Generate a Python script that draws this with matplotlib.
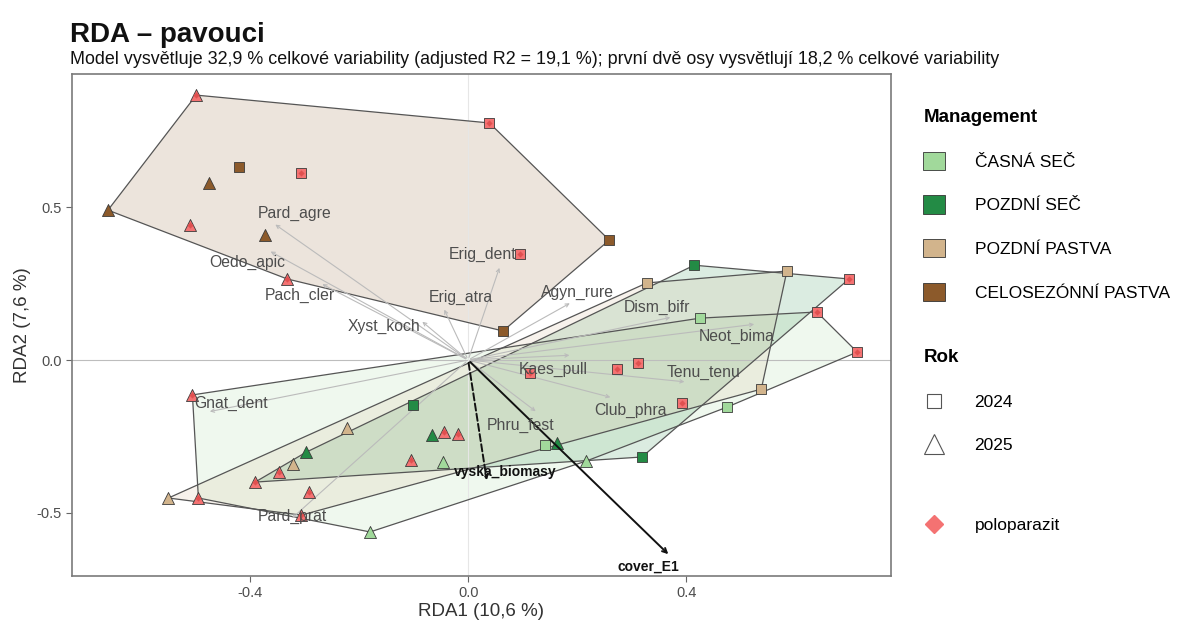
import numpy as np
import matplotlib
matplotlib.use("Agg")
import matplotlib.pyplot as plt
from matplotlib.patches import Patch, Polygon
from matplotlib.lines import Line2D

plt.rcParams['font.family'] = ['Liberation Sans', 'DejaVu Sans']

# management groups
groups = ['ČASNÁ SEČ', 'POZDNÍ SEČ', 'POZDNÍ PASTVA', 'CELOSEZÓNNÍ PASTVA']
group_colors = ['#a1d99b', '#238b45', '#d2b48c', '#8c5a2b']

# site scores (RDA1, RDA2), group index, year, poloparazit flag
site_x = [-0.499, 0.039, -0.420, -0.306, -0.475, -0.661, -0.510, -0.372, 0.095, 0.259, -0.332, 0.064,
          -0.180, -0.046, 0.141, 0.217, 0.475, 0.426, -0.506, -0.495, 0.640, 0.714,
          -0.297, -0.101, -0.066, 0.163, 0.319, 0.415, -0.391, 0.699, 0.393, 0.273,
          -0.550, -0.321, -0.222, 0.328, 0.585, 0.538, -0.292, -0.306, -0.347, -0.105, -0.044, -0.018, 0.114, 0.312]
site_y = [0.866, 0.775, 0.631, 0.611, 0.578, 0.490, 0.441, 0.408, 0.346, 0.392, 0.265, 0.095,
          -0.562, -0.333, -0.278, -0.330, -0.154, 0.137, -0.114, -0.451, 0.157, 0.026,
          -0.301, -0.147, -0.245, -0.271, -0.317, 0.310, -0.399, 0.265, -0.141, -0.029,
          -0.451, -0.340, -0.222, 0.252, 0.291, -0.095, -0.431, -0.507, -0.366, -0.327, -0.235, -0.242, -0.042, -0.010]
site_group = [3] * 12 + [0] * 10 + [1] * 10 + [2] * 14
site_year = [2025, 2024, 2024, 2024, 2025, 2025, 2025, 2025, 2024, 2024, 2025, 2024,
             2025, 2025, 2024, 2025, 2024, 2024, 2025, 2025, 2024, 2024,
             2025, 2024, 2025, 2025, 2024, 2024, 2025, 2024, 2024, 2024,
             2025, 2025, 2025, 2024, 2024, 2024, 2025, 2025, 2025, 2025, 2025, 2025, 2024, 2024]
site_polo = [1, 1, 0, 1, 0, 0, 1, 0, 1, 0, 1, 0,
             0, 0, 0, 0, 0, 0, 1, 1, 1, 1,
             0, 0, 0, 0, 0, 0, 1, 1, 1, 1,
             0, 0, 0, 0, 0, 0, 1, 1, 1, 1, 1, 1, 1, 1]

# species scores
species = ['Pard_agre', 'Oedo_apic', 'Pach_cler', 'Xyst_koch', 'Erig_dent', 'Erig_atra', 'Agyn_rure',
           'Dism_bifr', 'Neot_bima', 'Kaes_pull', 'Tenu_tenu', 'Club_phra', 'Phru_fest', 'Gnat_dent', 'Pard_prat']
sp_x = [-0.358, -0.367, -0.272, -0.088, 0.059, -0.046, 0.191, 0.376, 0.530, 0.191, 0.402, 0.266, 0.128, -0.479, -0.327]
sp_y = [0.448, 0.359, 0.252, 0.131, 0.310, 0.173, 0.190, 0.141, 0.118, 0.016, -0.072, -0.124, -0.173, -0.170, -0.523]

# environmental vectors
env = ['vyska_biomasy', 'cover_E1']
env_x = [0.035, 0.371]
env_y = [-0.402, -0.641]

years = [2024, 2025]
year_markers = {2024: 's', 2025: '^'}
polo_color = '#f47272'

# label offsets in pixels (repel-like placement)
sp_offsets = [(22, 10), (-21, -12), (-20, -12), (-36, -6), (-18, 11), (18, 10), (5, 9),
              (-16, 9), (-20, -12), (-19, -14), (16, 10), (17, -12), (-17, -12), (24, 9), (2, 4)]
env_offsets = [(18, 11), (-22, -11)]


def convex_hull(pts):
    pts = sorted(set(pts))
    if len(pts) < 3:
        return pts
    def cross(o, a, b):
        return (a[0] - o[0]) * (b[1] - o[1]) - (a[1] - o[1]) * (b[0] - o[0])
    lower, upper = [], []
    for p in pts:
        while len(lower) >= 2 and cross(lower[-2], lower[-1], p) <= 0:
            lower.pop()
        lower.append(p)
    for p in reversed(pts):
        while len(upper) >= 2 and cross(upper[-2], upper[-1], p) <= 0:
            upper.pop()
        upper.append(p)
    return lower[:-1] + upper[:-1]


fig = plt.figure(figsize=(11.82, 6.24), dpi=100)
ax = fig.add_axes([0.0609, 0.0769, 0.6929, 0.8045])

sx = np.array(site_x)
sy = np.array(site_y)
sg = np.array(site_group)
syr = np.array(site_year)
sp = np.array(site_polo)

# hulls
for gi, col in enumerate(group_colors):
    pts = list(zip(sx[sg == gi], sy[sg == gi]))
    hull = convex_hull(pts)
    ax.add_patch(Polygon(hull, closed=True, facecolor=col, alpha=0.16, edgecolor='none', zorder=1))
    ax.add_patch(Polygon(hull, closed=True, facecolor='none', edgecolor='#555555', lw=0.9, zorder=2))

ax.axhline(0, color='#bdbdbd', lw=0.8, zorder=1.5)
ax.axvline(0, color='#e6e6e6', lw=0.8, zorder=1.5)

# species arrows
for i, name in enumerate(species):
    ax.annotate('', xy=(sp_x[i], sp_y[i]), xytext=(0, 0),
                arrowprops=dict(arrowstyle='->', color='#bbbbbb', lw=0.8, mutation_scale=6), zorder=3)
    ax.annotate(name, xy=(sp_x[i], sp_y[i]), xytext=sp_offsets[i], textcoords='offset pixels',
                ha='center', va='center', fontsize=11.3, color='#4d4d4d', zorder=6)

# sites
for gi, col in enumerate(group_colors):
    for yr in years:
        m = (sg == gi) & (syr == yr)
        size = 48 if yr == 2024 else 75
        ax.scatter(sx[m & (sp == 0)], sy[m & (sp == 0)], marker=year_markers[yr], s=size,
                   facecolor=col, edgecolor='#3a3a3a', lw=0.6, zorder=4)
        ax.scatter(sx[m & (sp == 1)], sy[m & (sp == 1)], marker=year_markers[yr], s=size,
                   facecolor=polo_color, edgecolor='#3a3a3a', lw=0.6, zorder=4)
ax.scatter(sx[sp == 1], sy[sp == 1], marker='D', s=10, color='#e05050', lw=0, zorder=4.5)

# environmental arrows
for i, name in enumerate(env):
    ls = '--' if i == 0 else '-'
    ax.annotate('', xy=(env_x[i], env_y[i]), xytext=(0, 0),
                arrowprops=dict(arrowstyle='->', color='#111111', lw=1.4, linestyle=ls, mutation_scale=8), zorder=5)
    ax.annotate(name, xy=(env_x[i], env_y[i]), xytext=env_offsets[i], textcoords='offset pixels',
                ha='center', va='center', fontsize=10, fontweight='bold', color='#111111', zorder=6)

ax.set_xlim(-0.727, 0.776)
ax.set_ylim(-0.706, 0.935)
ax.set_xticks([-0.4, 0.0, 0.4])
ax.set_xticklabels(['-0.4', '0.0', '0.4'])
ax.set_yticks([-0.5, 0.0, 0.5])
ax.set_yticklabels(['-0.5', '0.0', '0.5'])
ax.tick_params(colors='#666666', labelsize=10.5, length=4, width=0.8, labelcolor='#4d4d4d')
for s in ax.spines.values():
    s.set_color('#7a7a7a')
    s.set_linewidth(1.2)
ax.set_xlabel('RDA1 (10,6 %)', fontsize=13.5, color='#333333', labelpad=2)
ax.set_ylabel('RDA2 (7,6 %)', fontsize=13.5, color='#333333', labelpad=4)

fig.text(0.059, 0.932, 'RDA – pavouci', fontsize=20, fontweight='bold', color='#111111', va='baseline')
fig.text(0.059, 0.897, 'Model vysvětluje 32,9 % celkové variability (adjusted R2 = 19,1 %); první dvě osy vysvětlují 18,2 % celkové variability',
         fontsize=12.9, color='#111111', va='baseline')

# legends
mg_handles = [Patch(facecolor=c, edgecolor='#333333', lw=0.6) for c in group_colors]
leg1 = fig.legend(mg_handles, groups, title='Management', loc='upper left', bbox_to_anchor=(0.768, 0.85),
                  frameon=False, fontsize=12.5, handlelength=1.25, handleheight=1.25, labelspacing=1.46,
                  handletextpad=1.7, alignment='left')
leg1.get_title().set_fontweight('bold')
leg1.get_title().set_fontsize(13.5)

rok_handles = [Line2D([], [], marker=year_markers[y], ls='none', markersize=10 if y == 2024 else 14,
                      markerfacecolor='white', markeredgecolor='#555555', markeredgewidth=0.8) for y in years]
leg2 = fig.legend(rok_handles, [str(y) for y in years], title='Rok', loc='upper left', bbox_to_anchor=(0.768, 0.465),
                  frameon=False, fontsize=12.5, handlelength=1.25, labelspacing=1.62, handletextpad=1.7, alignment='left')
leg2.get_title().set_fontweight('bold')
leg2.get_title().set_fontsize(13.5)

polo_handle = [Line2D([], [], marker='D', ls='none', markersize=9, color=polo_color)]
leg3 = fig.legend(polo_handle, ['poloparazit'], loc='upper left', bbox_to_anchor=(0.768, 0.195),
                  frameon=False, fontsize=12.5, handlelength=1.25, handletextpad=1.7)

fig.savefig('out.png', dpi=100)
